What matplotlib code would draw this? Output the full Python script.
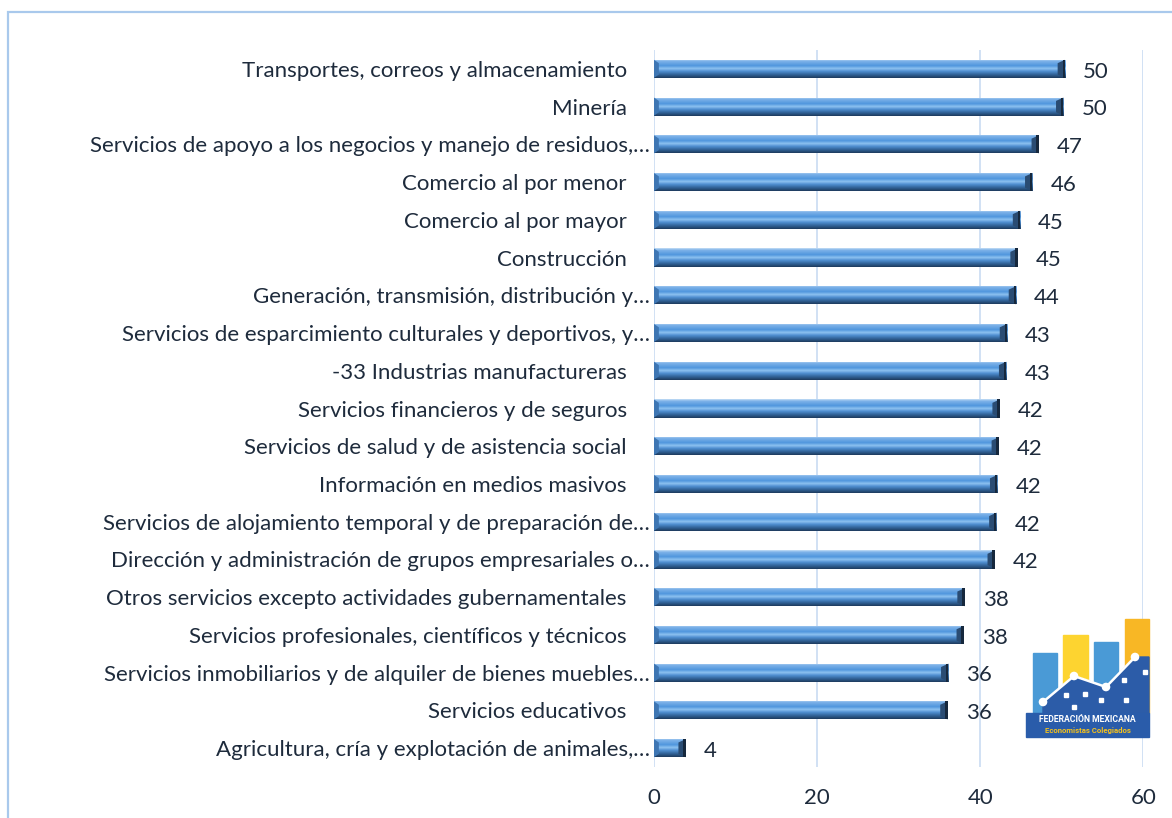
import numpy as np
import matplotlib
matplotlib.use('Agg')
import matplotlib.pyplot as plt
from matplotlib.colors import LinearSegmentedColormap
from matplotlib.patches import Rectangle, Polygon, Circle

plt.rcParams['font.family'] = ['Lato', 'DejaVu Sans']

# data, top to bottom as in the chart
sectors = [
    'Transportes, correos y almacenamiento',
    'Minería',
    'Servicios de apoyo a los negocios y manejo de residuos,…',
    'Comercio al por menor',
    'Comercio al por mayor',
    'Construcción',
    'Generación, transmisión, distribución y…',
    'Servicios de esparcimiento culturales y deportivos, y…',
    '-33 Industrias manufactureras',
    'Servicios financieros y de seguros',
    'Servicios de salud y de asistencia social',
    'Información en medios masivos',
    'Servicios de alojamiento temporal y de preparación de…',
    'Dirección y administración de grupos empresariales o…',
    'Otros servicios excepto actividades gubernamentales',
    'Servicios profesionales, científicos y técnicos',
    'Servicios inmobiliarios y de alquiler de bienes muebles…',
    'Servicios educativos',
    'Agricultura, cría y explotación de animales,…',
]
values = [50.4, 50.2, 47.2, 46.4, 44.9, 44.6, 44.4, 43.3, 43.2, 42.4,
          42.3, 42.1, 42.0, 41.8, 38.1, 38.0, 36.1, 36.0, 3.9]
xticks = [0, 20, 40, 60]

text_color = '#1E2B3C'
grid_color = '#C9DCF2'
fs = 16

# Excel leaves a gap after labels that were not truncated
labels = [s if s.endswith('…') else s + '    ' for s in sectors]

fig = plt.figure(figsize=(11.72, 8.18), dpi=100)
ax = fig.add_axes([0.558, 0.0623, 0.4175, 0.8766])

n = len(values)
ypos = np.arange(n)[::-1]
h = 0.48

bar_cmap = LinearSegmentedColormap.from_list('bevel', [
    (0.00, '#C4DDF5'), (0.10, '#7DB2E9'), (0.35, '#5096DD'),
    (0.50, '#8EC2F1'), (0.64, '#5190D2'), (0.82, '#32649A'), (1.00, '#1E3B5E')])
grad = np.linspace(0, 1, 64).reshape(-1, 1)

bars = ax.barh(ypos, values, height=h, color='none', edgecolor='none', zorder=3)
for bar, v, y in zip(bars, values, ypos):
    im = ax.imshow(grad, cmap=bar_cmap, aspect='auto', origin='upper',
                   extent=(0, v, y - h / 2, y + h / 2), zorder=3)
    im.set_clip_path(bar)
    ax.add_patch(Polygon([(v - 0.9, y + h / 2 - 0.09), (v, y + h / 2), (v, y - h / 2),
                          (v - 0.9, y - h / 2 + 0.09)], color='#2A4C73', zorder=4, lw=0))
    ax.add_patch(Rectangle((v - 0.3, y - h / 2), 0.3, h, color='#16283D', zorder=4, lw=0))
    ax.add_patch(Polygon([(0, y + h / 2), (0.6, y + h / 2 - 0.09), (0.6, y - h / 2 + 0.09),
                          (0, y - h / 2)], color='#3E76B3', zorder=4, lw=0))
    ax.annotate('%d' % round(v), (v, y), xytext=(13, -2), textcoords='offset points',
                va='center', ha='left', fontsize=fs, color=text_color)

ax.set_xlim(0, 60)
ax.set_ylim(-0.5, n - 0.5)
ax.set_xticks(xticks)
ax.set_yticks(ypos)
ax.set_yticklabels(labels)
ax.tick_params(axis='both', length=0, labelsize=fs, colors=text_color)
ax.tick_params(axis='x', pad=15)
ax.tick_params(axis='y', pad=3)
ax.grid(axis='x', color=grid_color, lw=1.2, zorder=0)
ax.set_axisbelow(True)
for s in ax.spines.values():
    s.set_visible(False)

# outer frame
fig.add_artist(Rectangle((8 / 1172, -0.2), 1.5, 1 - 12 / 818 + 0.2, transform=fig.transFigure,
                         fill=False, edgecolor='#A9C9EC', lw=1.6))

# logo
lg = fig.add_axes([1023 / 1172, 1 - 742 / 818, 140 / 1172, 132 / 818])
lg.set_xlim(1023, 1163)
lg.set_ylim(742, 610)
lg.axis('off')
lg.add_patch(Rectangle((1033, 653), 24, 60, color='#4A9AD6'))
lg.add_patch(Rectangle((1063, 635), 25, 78, color='#FDD430'))
lg.add_patch(Rectangle((1094, 642), 24, 71, color='#4A9AD6'))
lg.add_patch(Rectangle((1125, 619), 24, 94, color='#F8B725'))
pts = [(1043, 702), (1074, 676), (1106, 687), (1135, 657)]
lg.add_patch(Polygon([(1043, 713)] + pts + [(1149, 657), (1149, 713)], color='#2C5CA8'))
lx, ly = zip(*pts)
lg.plot(lx, ly, color='white', lw=1.8)
for p in pts:
    lg.add_patch(Circle(p, 3.6, color='white'))
for sx, sy in [(1066, 695), (1074, 707), (1085, 694), (1101, 700), (1124, 680),
               (1126, 700), (1145, 672)]:
    lg.add_patch(Rectangle((sx - 2, sy - 2), 4, 4, color='white'))
lg.add_patch(Rectangle((1026, 713), 123, 24, color='#2A5CAA'))
lg.text(1087.5, 719.5, 'FEDERACIÓN MEXICANA', color='white', fontsize=6.2,
        fontweight='bold', ha='center', va='center', family='Roboto')
lg.text(1087.5, 730.5, 'Economistas Colegiados', color='#F5C11B', fontsize=5.6,
        fontweight='bold', ha='center', va='center', family='Roboto')

fig.savefig('out.png', dpi=100)
